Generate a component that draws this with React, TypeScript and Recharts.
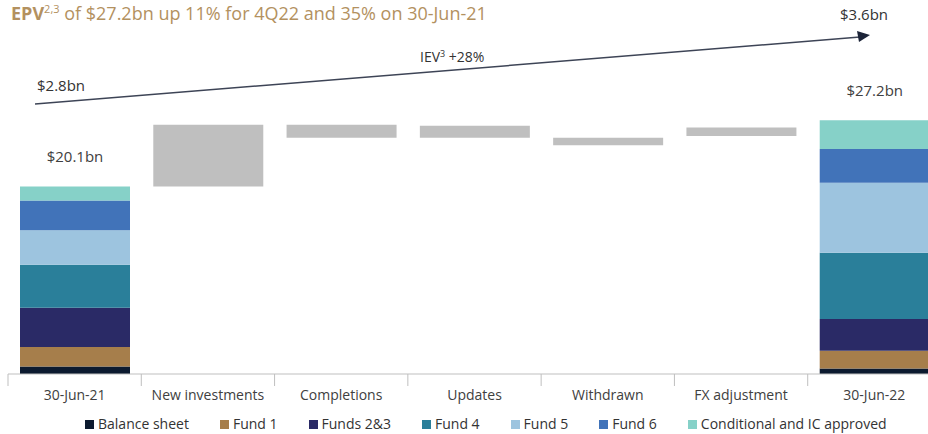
import { BarChart, Bar, XAxis, YAxis, LabelList } from 'recharts';

const categories = [
  '30-Jun-21',
  'New investments',
  'Completions',
  'Updates',
  'Withdrawn',
  'FX adjustment',
  '30-Jun-22',
];

// stacked EPV at the two period ends ($bn)
const balanceSheet = [0.8, 0, 0, 0, 0, 0, 0.6];
const fund1 = [2.1, 0, 0, 0, 0, 0, 1.9];
const funds23 = [4.2, 0, 0, 0, 0, 0, 3.4];
const fund4 = [4.6, 0, 0, 0, 0, 0, 7.1];
const fund5 = [3.7, 0, 0, 0, 0, 0, 7.5];
const fund6 = [3.2, 0, 0, 0, 0, 0, 3.6];
const conditional = [1.5, 0, 0, 0, 0, 0, 3.1];

// floating movements in between (low / high, $bn)
const moveLow = [0, 20.1, 25.3, 25.3, 24.5, 25.5, 0];
const moveHigh = [0, 26.7, 26.7, 26.6, 25.3, 26.4, 0];

const totals = ['$20.1bn', '', '', '', '', '', '$27.2bn'];

const SERIES = [
  { key: 'balance', name: 'Balance sheet', color: '#0c1a2f', values: balanceSheet },
  { key: 'fund1', name: 'Fund 1', color: '#a67e4b', values: fund1 },
  { key: 'funds23', name: 'Funds 2&3', color: '#2a2a66', values: funds23 },
  { key: 'fund4', name: 'Fund 4', color: '#2a7f9a', values: fund4 },
  { key: 'fund5', name: 'Fund 5', color: '#9dc4df', values: fund5 },
  { key: 'fund6', name: 'Fund 6', color: '#4173b9', values: fund6 },
  { key: 'cond', name: 'Conditional and IC approved', color: '#86d1c8', values: conditional },
];

const data = categories.map((name, i) => {
  const row: Record<string, number | string> = {
    name,
    base: moveLow[i],
    move: moveHigh[i] - moveLow[i],
    total: totals[i],
  };
  SERIES.forEach((s) => {
    row[s.key] = s.values[i];
  });
  return row;
});

const FONT = '"Open Sans", sans-serif';
const CHART_W = 945;
const M_LEFT = 8;
const M_RIGHT = 4;
const STEP = (CHART_W - M_LEFT - M_RIGHT) / categories.length;

function CategoryTick(props: any) {
  const { x, y, payload } = props;
  return (
    <g>
      <line x1={x - STEP / 2} x2={x - STEP / 2} y1={y} y2={y + 12} stroke="#bfbfbf" />
      <text x={x} y={y + 26} textAnchor="middle" fill="#404040" fontSize={14} fontFamily={FONT}>
        {payload.value}
      </text>
    </g>
  );
}

export default function App() {
  return (
    <div
      style={{
        position: 'absolute',
        left: 0,
        top: 0,
        width: 928,
        height: 434,
        overflow: 'hidden',
        background: '#fff',
        fontFamily: FONT,
      }}
    >
      <BarChart
        width={CHART_W}
        height={434}
        data={data}
        margin={{ top: 94, right: M_RIGHT, bottom: 30, left: M_LEFT }}
        barSize={110}
      >
        <XAxis
          dataKey="name"
          height={30}
          tickSize={0}
          tickMargin={0}
          tickLine={false}
          axisLine={{ stroke: '#bfbfbf' }}
          tick={<CategoryTick />}
          interval={0}
        />
        <YAxis hide domain={[0, 30]} />
        <Bar dataKey="base" stackId="a" fill="#fff" fillOpacity={0} isAnimationActive={false} />
        <Bar dataKey="move" stackId="a" fill="#bfbfbf" isAnimationActive={false} />
        {SERIES.map((s) => (
          <Bar key={s.key} dataKey={s.key} stackId="a" fill={s.color} isAnimationActive={false}>
            {s.key === 'cond' && (
              <LabelList
                dataKey="total"
                position="top"
                offset={24}
                style={{ fill: '#404040', fontSize: 15, fontFamily: FONT }}
              />
            )}
          </Bar>
        ))}
      </BarChart>

      {/* title + IEV arrow */}
      <svg
        width={928}
        height={434}
        style={{ position: 'absolute', left: 0, top: 0, pointerEvents: 'none' }}
      >
        <text x={11} y={20} fill="#b3915f" fontSize={18} fontFamily={FONT}>
          <tspan fontWeight="bold">EPV</tspan>
          <tspan fontSize={11} dy={-7}>2,3</tspan>
          <tspan dy={7}> of $27.2bn up 11% for 4Q22 and 35% on 30-Jun-21</tspan>
        </text>
        <line x1={35} y1={104} x2={860} y2={37} stroke="#3d4456" strokeWidth={1.5} />
        <polygon points="870,35 857,31 859,42" fill="#1c2438" />
        <text x={420} y={62} fill="#333" fontSize={14} fontFamily={FONT}>
          IEV<tspan fontSize={9} dy={-5}>3</tspan>
          <tspan dy={5}> +28%</tspan>
        </text>
        <text x={37} y={91} fill="#333" fontSize={15} fontFamily={FONT}>
          $2.8bn
        </text>
        <text x={840} y={20} fill="#333" fontSize={15} fontFamily={FONT}>
          $3.6bn
        </text>
      </svg>

      {/* legend */}
      <div
        style={{
          position: 'absolute',
          left: 85,
          top: 415,
          display: 'flex',
          gap: 31,
          fontSize: 14,
          color: '#333',
          lineHeight: '18px',
          whiteSpace: 'nowrap',
        }}
      >
        {SERIES.map((s) => (
          <div key={s.key} style={{ display: 'flex', alignItems: 'center' }}>
            <span
              style={{ width: 9, height: 9, background: s.color, marginRight: 4, display: 'inline-block' }}
            />
            {s.name}
          </div>
        ))}
      </div>
    </div>
  );
}
